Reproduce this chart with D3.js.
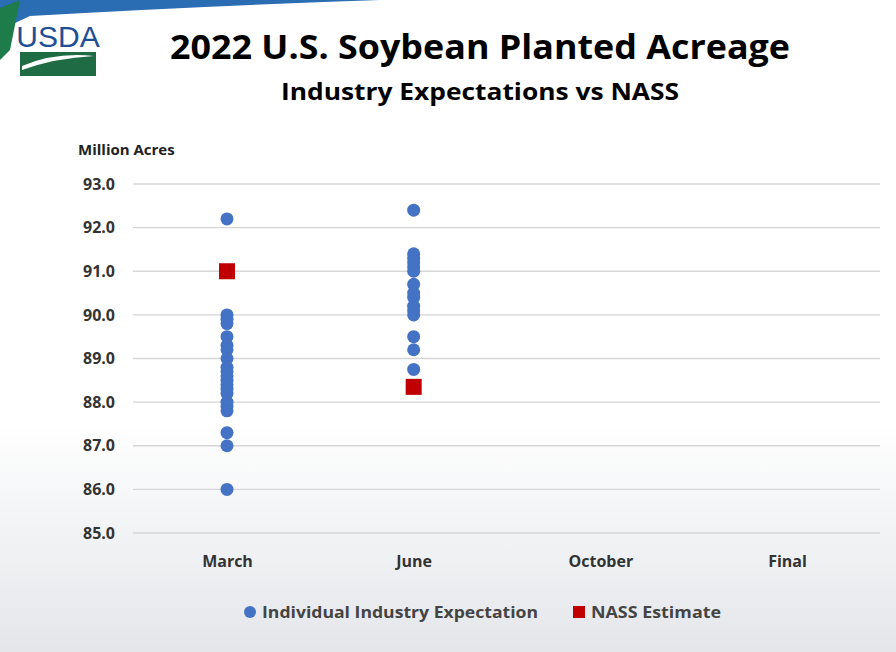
<!DOCTYPE html>
<html><head><meta charset="utf-8">
<script src="https://cdn.jsdelivr.net/npm/d3@7"></script>
<style>body{margin:0;background:#fff;font-family:"Open Sans",sans-serif}</style>
</head><body>
<script>
const W = 896, H = 652
const cats = ['March', 'June', 'October', 'Final']
const industry = {
  March: [92.2, 90.0, 89.9, 89.8, 89.5, 89.3, 89.2, 89.0, 88.8, 88.7, 88.6, 88.5, 88.4, 88.3, 88.2, 88.0, 87.9, 87.8, 87.3, 87.0, 86.0],
  June: [92.4, 91.4, 91.3, 91.2, 91.1, 91.0, 90.7, 90.5, 90.4, 90.2, 90.1, 90.0, 89.5, 89.2, 88.75]
}
const nass = [{ cat: 'March', v: 91.0 }, { cat: 'June', v: 88.35 }]

const svg = d3.select('body').append('svg').attr('width', W).attr('height', H)

const defs = svg.append('defs')
const g1 = defs.append('linearGradient').attr('id', 'bg').attr('x1', 0).attr('x2', 0).attr('y1', 0).attr('y2', 1)
g1.append('stop').attr('offset', '0.65').attr('stop-color', '#fff')
g1.append('stop').attr('offset', '1').attr('stop-color', '#e4e6ea')
svg.append('rect').attr('width', W).attr('height', H).attr('fill', 'url(#bg)')

// top accent bar and usda logo
svg.append('path').attr('d', 'M0,0 L380,0 Q200,6 30,16 L0,30 Z').attr('fill', '#2a6db3')
svg.append('path').attr('d', 'M0,8 L20,0 L10,50 L0,60 Z').attr('fill', '#1e7b4a')
svg.append('text').attr('x', 58).attr('y', 47).attr('text-anchor', 'middle')
  .attr('font-family', 'Liberation Sans Narrow, Arial Narrow, sans-serif').attr('font-size', 30)
  .attr('fill', '#1e4f95').text('USDA')
svg.append('rect').attr('x', 20).attr('y', 52).attr('width', 76).attr('height', 24).attr('fill', '#1f6b43')
svg.append('path').attr('d', 'M22,66 Q55,52 94,56 Q55,58 22,70 Z').attr('fill', '#fff')

svg.append('text').attr('x', 480).attr('y', 59).attr('text-anchor', 'middle')
  .attr('font-size', 34).attr('font-weight', 700).attr('textLength', 620).attr('lengthAdjust', 'spacingAndGlyphs')
  .text('2022 U.S. Soybean Planted Acreage')
svg.append('text').attr('x', 480).attr('y', 100).attr('text-anchor', 'middle')
  .attr('font-size', 24).attr('font-weight', 700).attr('textLength', 398).attr('lengthAdjust', 'spacingAndGlyphs')
  .text('Industry Expectations vs NASS')

const x = d3.scalePoint().domain(cats).range([227, 787])
const y = d3.scaleLinear().domain([85, 93]).range([533, 184])

svg.append('g').selectAll('line').data(d3.range(85, 93.5, 1)).join('line')
  .attr('x1', 133).attr('x2', 880).attr('y1', d => y(d)).attr('y2', d => y(d))
  .attr('stroke', '#d6d6d6').attr('stroke-width', 1.3)

const ya = svg.append('g').attr('transform', 'translate(118,0)')
  .call(d3.axisLeft(y).ticks(8).tickFormat(d3.format('.1f')).tickSize(0))
ya.select('.domain').remove()
ya.selectAll('text').attr('font-size', 16).attr('font-weight', 700).attr('fill', '#333').attr('font-family', 'Open Sans')

const xa = svg.append('g').attr('transform', 'translate(0,553)').call(d3.axisBottom(x).tickSize(0))
xa.select('.domain').remove()
xa.selectAll('text').attr('font-size', 16).attr('font-weight', 700).attr('fill', '#333').attr('font-family', 'Open Sans')

svg.append('text').attr('x', 78).attr('y', 155).attr('font-size', 15).attr('font-weight', 700).attr('fill', '#222').text('Million Acres')

const pts = Object.entries(industry).flatMap(([c, vs]) => vs.map(v => ({ c, v })))
svg.append('g').selectAll('circle').data(pts).join('circle')
  .attr('cx', d => x(d.c)).attr('cy', d => y(d.v)).attr('r', 6.5).attr('fill', '#4472c4')

svg.append('g').selectAll('rect').data(nass).join('rect')
  .attr('x', d => x(d.cat) - 8).attr('y', d => y(d.v) - 8).attr('width', 16).attr('height', 16).attr('fill', '#c00000')

// legend
const lg = svg.append('g').attr('font-size', 16).attr('font-weight', 700).attr('fill', '#444')
lg.append('circle').attr('cx', 250).attr('cy', 612).attr('r', 6).attr('fill', '#4472c4')
lg.append('text').attr('x', 262).attr('y', 618).attr('textLength', 276).attr('lengthAdjust', 'spacingAndGlyphs').text('Individual Industry Expectation')
lg.append('rect').attr('x', 573).attr('y', 606).attr('width', 12).attr('height', 12).attr('fill', '#c00000')
lg.append('text').attr('x', 591).attr('y', 618).attr('textLength', 130).attr('lengthAdjust', 'spacingAndGlyphs').text('NASS Estimate')
</script>
</body></html>
